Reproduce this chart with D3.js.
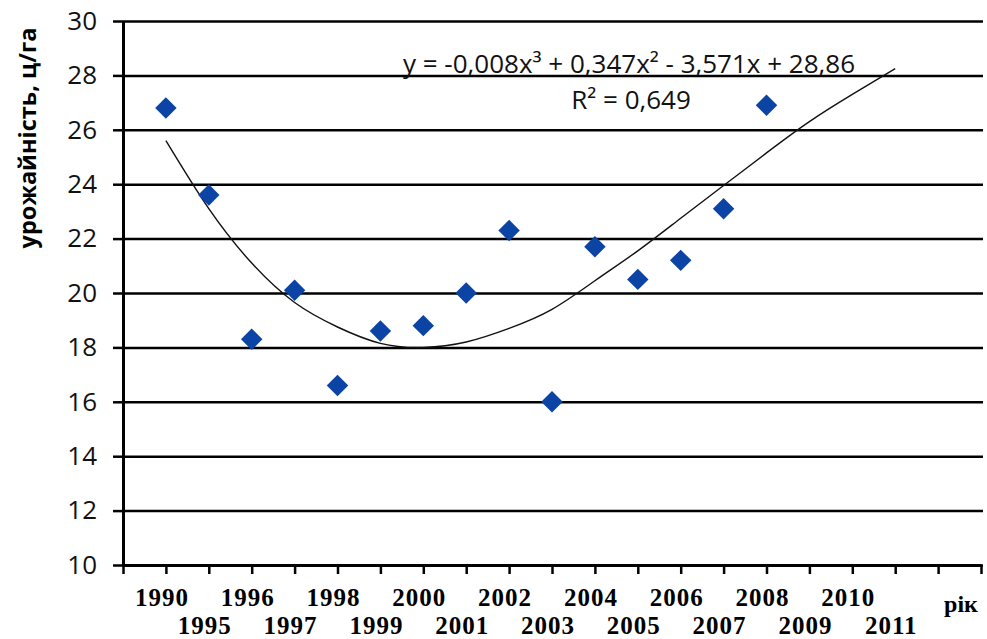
<!DOCTYPE html>
<html>
<head>
<meta charset="utf-8">
<script src="https://cdn.jsdelivr.net/npm/d3@7"></script>
<style>
  body { margin: 0; background: #fff; }
  svg { display: block; }
  .tick text { font-family: "Open Sans", sans-serif; }
</style>
</head>
<body>
<div id="chart"></div>
<script>
// years on the category axis (index 1..18)
const years = ["1990", "1995", "1996", "1997", "1998", "1999", "2000", "2001", "2002",
    "2003", "2004", "2005", "2006", "2007", "2008", "2009", "2010", "2011"]
// yield, c/ha, 1990..2008
const yields = [26.8, 23.6, 18.3, 20.1, 16.6, 18.6, 18.8, 20.0, 22.3, 16.0, 21.7, 20.5, 21.2, 23.1, 26.9]
// polynomial trend line, index 1..18
const trend = [25.6, 23.1, 21.1, 19.65, 18.75, 18.15, 18.0, 18.2, 18.7, 19.4, 20.45, 21.55,
    22.75, 23.95, 25.15, 26.3, 27.3, 28.25]
const yTicks = [10, 12, 14, 16, 18, 20, 22, 24, 26, 28, 30]
const equation = "y = -0,008x³ + 0,347x² - 3,571x + 28,86"
const rSquared = "R² = 0,649"

const width = 987
const height = 639
margin = ({ top: 21, right: 6, bottom: 74, left: 123 })

var x = d3.scaleLinear()
    .domain([0, 20])
    .range([margin.left, 981])

var y = d3.scaleLinear()
    .domain([10, 30])
    .range([height - margin.bottom, margin.top])

var svg = d3.select('#chart')
    .append("svg")
    .attr('width', width)
    .attr('height', height)

// grid lines
svg.append("g")
    .attr("transform", `translate(${margin.left},0)`)
    .call(d3.axisRight(y).tickValues(yTicks).tickSize(983 - margin.left).tickFormat(""))
    .call(g => g.select(".domain").remove())
    .call(g => g.selectAll(".tick line").attr("stroke", "#000").attr("stroke-width", 2.5))

// y axis
svg.append("g")
    .attr("transform", `translate(${margin.left},0)`)
    .call(d3.axisLeft(y).tickValues(yTicks).tickSize(10).tickPadding(16).tickSizeOuter(0))
    .call(g => g.select(".domain").attr("stroke-width", 3))
    .call(g => g.selectAll(".tick line").attr("stroke-width", 2.5))
    .call(g => g.selectAll(".tick text").attr("font-size", 26).attr("fill", "#111"))

// x axis
svg.append("g")
    .attr("transform", `translate(0,${y(10)})`)
    .call(d3.axisBottom(x).tickValues(d3.range(0, 21)).tickSize(9).tickFormat("").tickSizeOuter(0))
    .call(g => g.select(".domain").attr("stroke-width", 3))
    .call(g => g.selectAll(".tick line").attr("stroke-width", 2.5))

// staggered year labels
svg.append("g")
    .selectAll("text")
    .data(years)
    .join("text")
    .attr("x", (d, i) => x(i + 1) - 4)
    .attr("y", (d, i) => i % 2 == 0 ? 606 : 634)
    .attr("text-anchor", "middle")
    .attr("font-family", "Liberation Serif, serif")
    .attr("font-weight", "bold")
    .attr("font-size", 25)
    .attr("letter-spacing", 1)
    .text(d => d)

svg.append("text")
    .attr("x", 961)
    .attr("y", 612)
    .attr("text-anchor", "middle")
    .attr("font-family", "Liberation Serif, serif")
    .attr("font-weight", "bold")
    .attr("font-size", 24)
    .text("рік")

// y title
svg.append("text")
    .attr("transform", "translate(36,138) rotate(-90)")
    .attr("text-anchor", "middle")
    .attr("font-family", "Open Sans, sans-serif")
    .attr("font-weight", "bold")
    .attr("font-size", 23.5)
    .text("урожайність, ц/га")

// trend line
var line = d3.line()
    .x((d, i) => x(i + 1))
    .y(d => y(d))
    .curve(d3.curveNatural)

svg.append("path")
    .datum(trend)
    .attr("fill", "none")
    .attr("stroke", "#111")
    .attr("stroke-width", 1.4)
    .attr("d", line)

// data points
svg.append("g")
    .selectAll("path")
    .data(yields)
    .join("path")
    .attr("transform", (d, i) => `translate(${x(i + 1)},${y(d)}) rotate(45)`)
    .attr("d", d3.symbol(d3.symbolSquare, 230))
    .attr("fill", "#0b44a4")

// equation labels
svg.append("text")
    .attr("x", 629)
    .attr("y", 73)
    .attr("text-anchor", "middle")
    .attr("font-family", "Open Sans, sans-serif")
    .attr("font-size", 26)
    .attr("fill", "#111")
    .text(equation)

svg.append("text")
    .attr("x", 631)
    .attr("y", 109)
    .attr("text-anchor", "middle")
    .attr("font-family", "Open Sans, sans-serif")
    .attr("font-size", 26)
    .attr("fill", "#111")
    .text(rSquared)
</script>
</body>
</html>
